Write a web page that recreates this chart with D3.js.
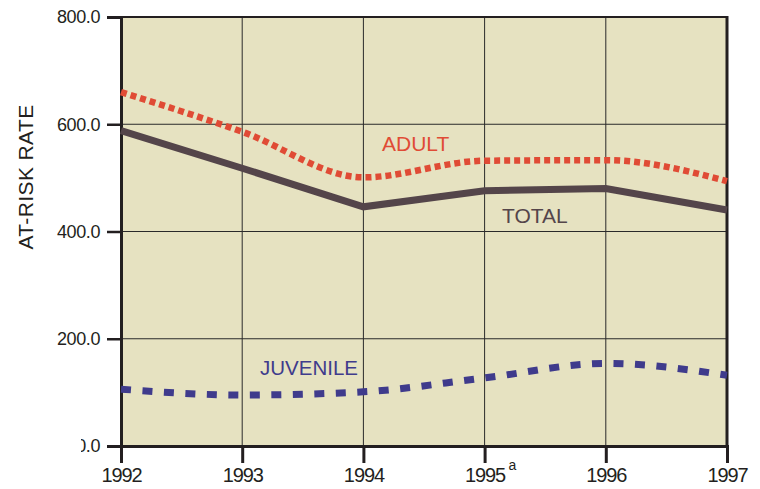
<!DOCTYPE html>
<html><head><meta charset="utf-8">
<script src="https://cdn.jsdelivr.net/npm/d3@7"></script>
<style>body{margin:0;background:#fff}svg{display:block}text{font-family:"Liberation Sans",Arial,sans-serif}</style>
</head><body>
<svg id="c" width="760" height="489"></svg>
<script>
const years = [1992, 1993, 1994, 1995, 1996, 1997];
const yearLabels = ["1992", "1993", "1994", "1995", "1996", "1997"];
const adult = [660, 586, 501, 532, 533, 494];
const total = [588, 518, 446, 476, 480, 440];
const juvenile = [106, 95, 101, 127, 154, 132];
const yTicks = [0, 200, 400, 600, 800];

const svg = d3.select("#c");
const L = 121, R = 727, T = 17, B = 446;
const x = d3.scaleLinear().domain([1992, 1997]).range([L, R]);
const y = d3.scaleLinear().domain([0, 800]).range([B, T]);

svg.append("rect").attr("x", L).attr("y", T).attr("width", R - L).attr("height", B - T).attr("fill", "#e6e2c1");

// gridlines
svg.append("g").selectAll("line").data(years.slice(1, -1)).join("line")
  .attr("x1", d => x(d)).attr("x2", d => x(d)).attr("y1", T).attr("y2", B)
  .attr("stroke", "#2a2a2a").attr("stroke-width", 1);
svg.append("g").selectAll("line").data(yTicks.slice(1, -1)).join("line")
  .attr("x1", L).attr("x2", R).attr("y1", d => y(d)).attr("y2", d => y(d))
  .attr("stroke", "#2a2a2a").attr("stroke-width", 1);

// frame
svg.append("line").attr("x1", L).attr("x2", R + 1).attr("y1", T).attr("y2", T).attr("stroke", "#231f20").attr("stroke-width", 2);
svg.append("line").attr("x1", R).attr("x2", R).attr("y1", T - 1).attr("y2", B).attr("stroke", "#231f20").attr("stroke-width", 3);

// y axis
const yAxis = d3.axisLeft(y).tickValues(yTicks).tickFormat(d3.format(".1f")).tickSize(14).tickPadding(7);
const gy = svg.append("g").attr("transform", `translate(${L},0)`).call(yAxis);
gy.select(".domain").attr("stroke", "#231f20").attr("stroke-width", 3);
gy.selectAll(".tick line").attr("stroke", "#231f20").attr("stroke-width", 2.5);
gy.selectAll(".tick text").attr("font-size", 18).attr("fill", "#231f20").attr("font-family", "Liberation Sans, Arial, sans-serif").attr("letter-spacing", "-0.4");
svg.append("clipPath").attr("id", "zc").append("rect").attr("x", -40).attr("y", -30).attr("width", 60).attr("height", 60);
gy.selectAll(".tick").filter(d => d === 0).select("text").attr("clip-path", "url(#zc)");

// x axis
const xAxis = d3.axisBottom(x).tickValues(years).tickFormat((d, i) => yearLabels[i]).tickSize(17).tickPadding(5);
const gx = svg.append("g").attr("transform", `translate(0,${B})`).call(xAxis);
gx.select(".domain").attr("stroke", "#231f20").attr("stroke-width", 3);
gx.selectAll(".tick line").attr("stroke", "#231f20").attr("stroke-width", 3);
gx.selectAll(".tick text").attr("font-size", 20).attr("fill", "#231f20").attr("font-family", "Liberation Sans, Arial, sans-serif").attr("letter-spacing", "-1.1");
svg.append("text").attr("x", x(1995) + 24).attr("y", 470).attr("font-size", 14).attr("fill", "#231f20").text("a");

// lines
const lineLin = d3.line().x((d, i) => x(years[i])).y(d => y(d));
const lineCurve = d3.line().x((d, i) => x(years[i])).y(d => y(d)).curve(d3.curveMonotoneX);

const plot = svg.append("g");
plot.append("path").datum(total).attr("d", lineLin).attr("fill", "none")
  .attr("stroke", "#54454a").attr("stroke-width", 7);
plot.append("path").datum(adult).attr("d", lineCurve).attr("fill", "none")
  .attr("stroke", "#e04b35").attr("stroke-width", 6.5).attr("stroke-dasharray", "6,4");
plot.append("path").datum(juvenile).attr("d", lineCurve).attr("fill", "none")
  .attr("stroke", "#3f3b8c").attr("stroke-width", 7).attr("stroke-dasharray", "10,11.5");

// series labels
svg.append("text").attr("x", 382).attr("y", 151).attr("font-size", 21).attr("fill", "#e04b35").text("ADULT");
svg.append("text").attr("x", 502).attr("y", 223).attr("font-size", 21).attr("fill", "#54454a").text("TOTAL");
svg.append("text").attr("x", 260).attr("y", 375).attr("font-size", 20.5).attr("fill", "#3f3b8c").text("JUVENILE");

// y title
svg.append("text").attr("transform", "translate(33,177) rotate(-90)").attr("text-anchor", "middle")
  .attr("font-size", 21).attr("letter-spacing", "0.4").attr("fill", "#231f20").text("AT-RISK RATE");
</script>
</body></html>
